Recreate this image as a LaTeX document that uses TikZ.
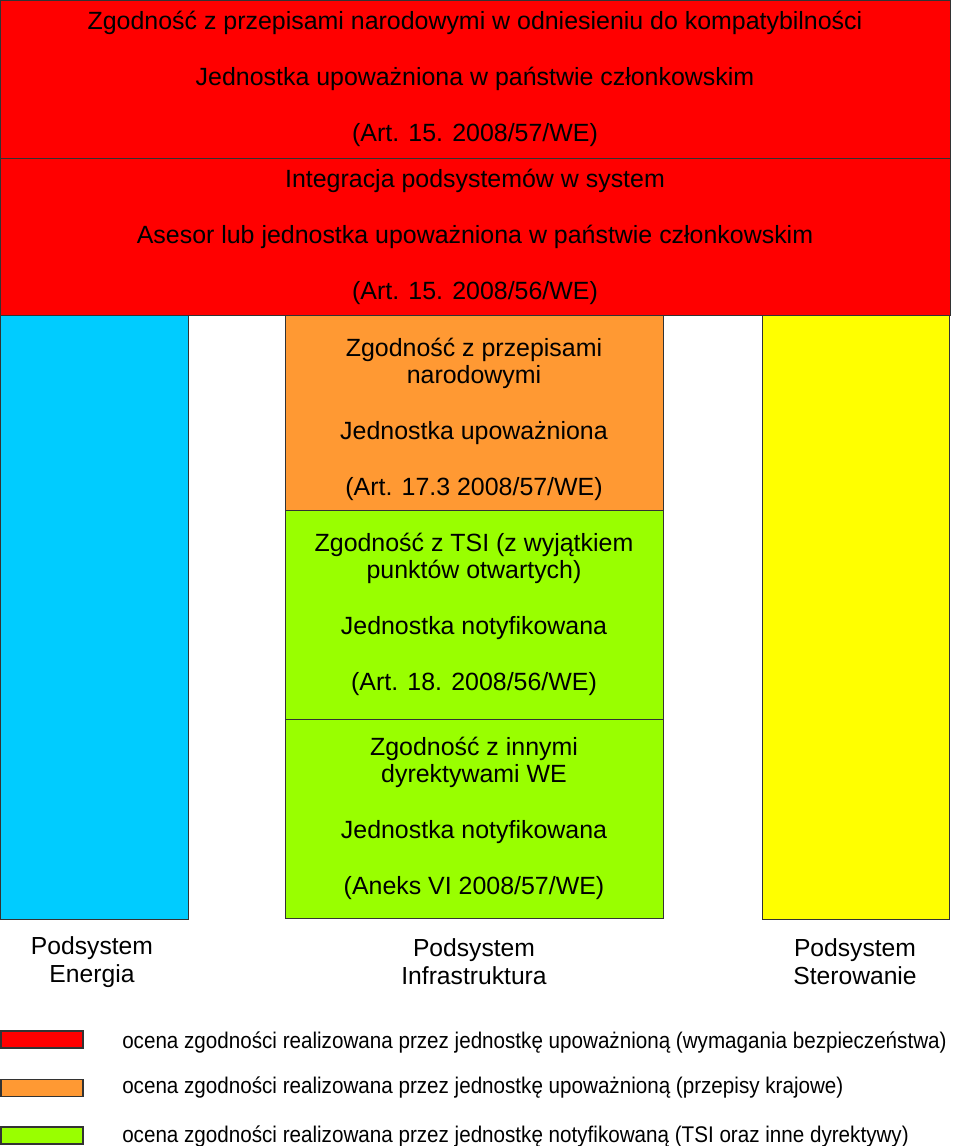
\documentclass[tikz,border=0pt]{standalone}
\usepackage{fontspec}
\setmainfont{Liberation Sans}
\newfontfamily\legendfont[FakeStretch=0.91]{Liberation Sans}
\usepackage{xcolor}
\definecolor{ocred}{HTML}{FF0000}
\definecolor{ocorange}{HTML}{FF9933}
\definecolor{ocgreen}{HTML}{99FF00}
\definecolor{ocblue}{HTML}{00CCFF}
\definecolor{ocyellow}{HTML}{FFFF00}

\begin{document}
\begin{tikzpicture}[
  x=0.75pt, y=-0.75pt,
  box/.style={rectangle,draw=black!80,line width=0.75pt,inner sep=0pt,align=center,font=\fontsize{18.7}{20}\selectfont},
  label/.style={align=center,inner sep=0pt,font=\fontsize{18.5}{21}\selectfont},
  key/.style={rectangle,draw=black!80,line width=0.9pt,minimum width=61.5pt,minimum height=12.75pt,inner sep=0pt},
  keytext/.style={anchor=west,inner sep=0pt,font=\legendfont\fontsize{17}{20}\selectfont}
]
  \useasboundingbox (0,0) rectangle (954,1146);
  % red blocks
  \node[box,fill=ocred,minimum width=712.5pt,minimum height=118.5pt] (compat) at (475,79)
    {Zgodność z przepisami narodowymi w odniesieniu do kompatybilności\\[22pt]
     Jednostka upoważniona w państwie członkowskim\\[22pt]
     (Art. 15. 2008/57/WE)};
  \node[box,fill=ocred,minimum width=712.5pt,minimum height=117.75pt] (integr) at (475,236.5)
    {Integracja podsystemów w system\\[22pt]
     Asesor lub jednostka upoważniona w państwie członkowskim\\[22pt]
     (Art. 15. 2008/56/WE)};
  % subsystems
  \node[box,fill=ocblue,minimum width=141pt,minimum height=453pt] (energia) at (94,617) {};
  \node[box,fill=ocyellow,minimum width=140.25pt,minimum height=453pt] (sterow) at (855.5,617) {};
  \node[box,fill=ocorange,minimum width=283.5pt,minimum height=146.25pt] (krajowe) at (474,412.5)
    {\rule{0pt}{24pt}Zgodność z przepisami\\ narodowymi\\[22pt]
     Jednostka upoważniona\\[22pt]
     (Art. 17.3 2008/57/WE)};
  \node[box,fill=ocgreen,minimum width=283.5pt,minimum height=156.75pt] (tsi) at (474,614.5)
    {Zgodność z TSI (z wyjątkiem\\ punktów otwartych)\\[22pt]
     Jednostka notyfikowana\\[22pt]
     (Art. 18. 2008/56/WE)};
  \node[box,fill=ocgreen,minimum width=283.5pt,minimum height=149.25pt] (inne) at (474,818.5)
    {Zgodność z innymi\\ dyrektywami WE\\[22pt]
     Jednostka notyfikowana\\[22pt]
     (Aneks VI 2008/57/WE)};
  % subsystem names
  \node[label] (lenergia) at (92,962) {Podsystem\\ Energia};
  \node[label] (linfra) at (474,962) {Podsystem\\ Infrastruktura};
  \node[label] (lsterow) at (855,962) {Podsystem\\ Sterowanie};
  % legend
  \node[key,fill=ocred] (kred) at (42,1039.5) {};
  \node[key,fill=ocorange] (korange) at (42,1088) {};
  \node[key,fill=ocgreen] (kgreen) at (42,1135.5) {};
  \node[keytext] (tred) at (122,1043) {ocena zgodności realizowana przez jednostkę upoważnioną (wymagania bezpieczeństwa)};
  \node[keytext] (torange) at (122,1088) {ocena zgodności realizowana przez jednostkę upoważnioną (przepisy krajowe)};
  \node[keytext] (tgreen) at (122,1137) {ocena zgodności realizowana przez jednostkę notyfikowaną (TSI oraz inne dyrektywy)};
\end{tikzpicture}
\end{document}
